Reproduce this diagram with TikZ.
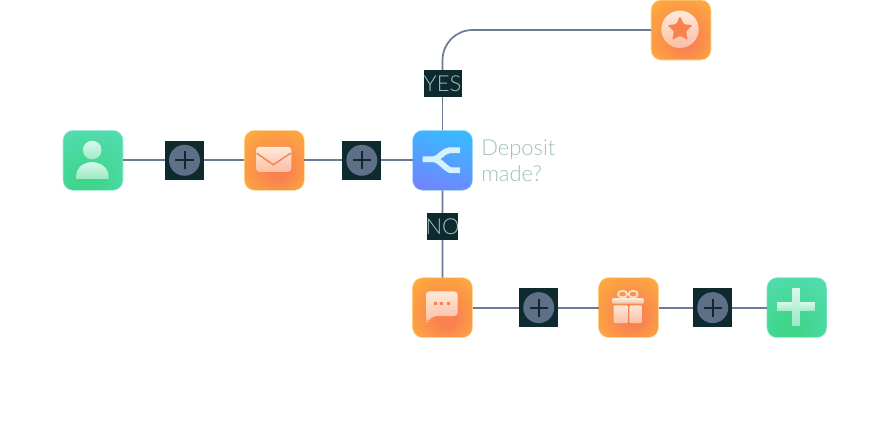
\documentclass[tikz,border=0pt]{standalone}
\usepackage{fontspec}
\setmainfont{Lato Light}
\usetikzlibrary{positioning}
\usetikzlibrary{shapes.geometric}
\usetikzlibrary{fadings}
\definecolor{boxdark}{HTML}{0D2B2F}
\definecolor{addgrey}{HTML}{5F6F88}
\definecolor{linegrey}{HTML}{6C7A94}
\definecolor{labeltext}{HTML}{9FBFBB}
\definecolor{iconorange}{HTML}{F98250}
\definecolor{tileamber}{HTML}{FFBA38}
\definecolor{tilegreen}{HTML}{3FD58A}
\definecolor{tilemint}{HTML}{5CE0C4}
\definecolor{tilesky}{HTML}{39B9FF}
\definecolor{tileviolet}{HTML}{6F86FF}
\pgfdeclareradialshading{orangetile}{\pgfpoint{4bp}{-10bp}}{color(0bp)=(iconorange);color(8bp)=(iconorange);color(44bp)=(tileamber)}
\pgfdeclareradialshading{greentile}{\pgfpoint{-8bp}{-28bp}}{color(0bp)=(tilegreen);color(10bp)=(tilegreen);color(54bp)=(tilemint)}
\tikzfading[name=glassfade,top color=transparent!20,bottom color=transparent!52]
\tikzset{
    tile/.style={rectangle,rounded corners=7.5pt,minimum size=45pt,inner sep=0pt,outer sep=0pt},
    orangebox/.style={tile,shading=orangetile,draw=tileamber!45!white,line width=.4pt},
    greenbox/.style={tile,shading=greentile,draw=tilemint!50!white,line width=.4pt},
    bluebox/.style={tile,top color=tilesky,bottom color=tileviolet,shading angle=-15,draw=tilesky!45!white,line width=.4pt},
    addbox/.style={rectangle,fill=boxdark,minimum size=29.25pt,inner sep=0pt,outer sep=0pt,
        path picture={
            \fill[addgrey] (path picture bounding box.center) circle (11.6pt);
            \draw[boxdark,line width=1.5pt] ([xshift=-6.8pt]path picture bounding box.center) -- ([xshift=6.8pt]path picture bounding box.center);
            \draw[boxdark,line width=1.5pt] ([yshift=-6.8pt]path picture bounding box.center) -- ([yshift=6.8pt]path picture bounding box.center);
        }},
    answer/.style={rectangle,fill=boxdark,text=labeltext,font=\fontsize{16.5}{16.5}\selectfont,inner sep=0pt,outer sep=0pt,minimum height=20.25pt},
    link/.style={draw=linegrey,line width=1.3pt},
    glass/.style={fill=white,path fading=glassfade,draw=none},
}
\begin{document}
\begin{tikzpicture}[x=.75pt,y=-.75pt]
    \useasboundingbox (0,0) rectangle (873,429);

    \node (user) [greenbox] at (93,160.3) {};
    \node (addone) [addbox,right=31.5pt of user] {};
    \node (mail) [orangebox,right=30.25pt of addone] {};
    \node (addtwo) [addbox,right=28.5pt of mail] {};
    \node (branch) [bluebox,right=23.4pt of addtwo] {};
    \node (question) [right=3pt of branch,yshift=-.3pt,align=left,text=labeltext,font=\fontsize{16.5}{19.9}\selectfont] {Deposit\\made?};
    \node (yes) [answer,minimum width=28.5pt,above=25pt of branch] {YES};
    \node (no) [answer,minimum width=22.2pt,inner xsep=-1.3pt,below=17pt of branch] {NO};
    \node (star) [orangebox] at (681,30) {};
    \node (chat) [orangebox,below=65.5pt of branch] {};
    \node (addthree) [addbox,right=35pt of chat] {};
    \node (gift) [orangebox,right=30.25pt of addthree] {};
    \node (addfour) [addbox,right=26pt of gift] {};
    \node (finish) [greenbox,right=26pt of addfour] {};

    \draw[link] (user) -- (addone);
    \draw[link] (addone) -- (mail);
    \draw[link] (mail) -- (addtwo);
    \draw[link] (addtwo) -- (branch);
    \draw[link] (branch) -- (yes);
    \draw[link] (branch) -- (no);
    \draw[link] (no) -- (chat);
    \draw[link,rounded corners=22.5pt] (yes) |- (star);
    \draw[link] (chat) -- (addthree);
    \draw[link] (addthree) -- (gift);
    \draw[link] (gift) -- (addfour);
    \draw[link] (addfour) -- (finish);

    \begin{scope}[shift={(user)}]
        \fill[glass] (-.8,-10.3) circle (9.3);
        \fill[glass] (-16.8,18.5) -- (-16.8,16) .. controls (-16.8,7) and (-9,1.8) .. (-.8,1.8) .. controls (7,1.8) and (15.5,7) .. (15.5,16) -- (15.5,18.5) -- cycle;
    \end{scope}
    \begin{scope}[shift={(mail)}]
        \fill[glass,rounded corners=2.5] (-18.3,-13.5) rectangle (17,11.5);
        \draw[iconorange,line width=1.1pt,line cap=round] (-17.5,-7) -- (-1,4.5) -- (16,-7);
    \end{scope}
    \begin{scope}[shift={(branch)}]
        \draw[white!80!tilesky,line width=4.4pt,line join=round] (-20,-1) -- (-9,-1) .. controls (-4,-1) and (1,-10) .. (7,-10) -- (17.5,-10);
        \draw[white!80!tilesky,line width=4.4pt,line join=round] (-9,-1) .. controls (-3,-1) and (4,10) .. (9,10) -- (17.5,10);
    \end{scope}
    \begin{scope}[shift={(star)}]
        \fill[glass] (-1,-.7) circle (18.7);
        \node (starshape) [star,star points=5,star point ratio=2.1,fill=iconorange,rounded corners=1pt,minimum size=20pt,inner sep=0pt] at (-1,-.7) {};
    \end{scope}
    \begin{scope}[shift={(chat)}]
        \fill[glass,rounded corners=2.5] (-16.5,-16.3) -- (15,-16.3) -- (15,8.4) -- (-9,8.4) -- (-15.8,14.4) -- (-16.5,14.4) -- cycle;
        \foreach \dotx in {-7.3,-.7,6} {
            \fill[iconorange] (\dotx-1.5,-5.5) rectangle (\dotx+1.5,-2.5);
        }
    \end{scope}
    \begin{scope}[shift={(gift)}]
        \fill[glass,rounded corners=1] (-16.6,-9.6) rectangle (15.4,-4);
        \fill[glass,rounded corners=1] (-15,-2.3) rectangle (-.6,15.5);
        \fill[glass,rounded corners=1] (.8,-2.3) rectangle (13.4,15.5);
        \draw[white,opacity=.7,line width=1.4pt] (-6,-13.5) ellipse (4.5 and 3.4);
        \draw[white,opacity=.7,line width=1.4pt] (4.6,-13.5) ellipse (4.5 and 3.4);
    \end{scope}
    \begin{scope}[shift={(finish)}]
        \fill[glass] (-5,-19.3) rectangle (3.5,18);
        \fill[glass] (-19.7,-5.3) rectangle (-5,3.7);
        \fill[glass] (3.5,-5.3) rectangle (18.3,3.7);
    \end{scope}
\end{tikzpicture}
\end{document}
